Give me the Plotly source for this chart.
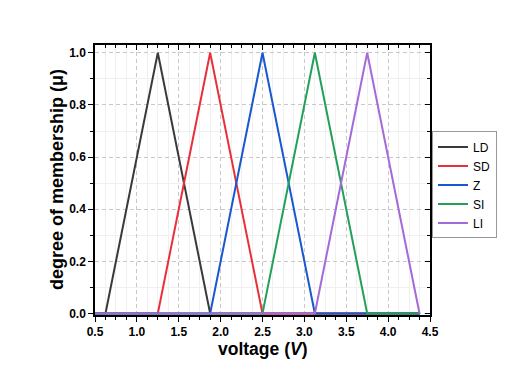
import plotly.graph_objects as go

names = ["LD", "SD", "Z", "SI", "LI"]
colors = ["#3a3a3a", "#e8303a", "#1858d0", "#23a05a", "#a46ad8"]
x_start = 0.5
x_end = 4.375
left_feet = [0.625, 1.25, 1.875, 2.5, 3.125]
peaks = [1.25, 1.875, 2.5, 3.125, 3.75]
right_feet = [1.875, 2.5, 3.125, 3.75, 4.375]

fig = go.Figure()
for n, c, a, b, r in zip(names, colors, left_feet, peaks, right_feet):
    xs = [x_start, a, b, r, x_end]
    ys = [0, 0, 1, 0, 0]
    fig.add_trace(go.Scatter(x=xs, y=ys, mode="lines", name=n,
                             line=dict(color=c, width=2)))

# invisible trace for mirrored inside ticks
fig.add_trace(go.Scatter(x=[0.5], y=[0], xaxis="x2", yaxis="y2", mode="markers",
                         marker=dict(opacity=0), showlegend=False, hoverinfo="skip"))

xr = [0.5, 4.5]
yr = [-0.006, 1.03]
font = "Arial, Liberation Sans, sans-serif"

fig.update_layout(
    width=505, height=384,
    margin=dict(l=87, r=83, t=37, b=77, autoexpand=False),
    paper_bgcolor="white", plot_bgcolor="white",
    font=dict(family=font, color="black"),
    showlegend=True,
    legend=dict(x=1.006, y=0.68, xanchor="left", yanchor="top",
                bordercolor="#999999", borderwidth=1,
                font=dict(size=12, family=font),
                tracegroupgap=0, itemwidth=30),
    xaxis=dict(range=xr, dtick=0.5, tick0=0.5, tickformat=".1f", automargin=False,
               showline=True, linecolor="black", linewidth=1.5,
               ticks="outside", ticklen=5, tickcolor="black",
               tickfont=dict(size=12, family=font, weight="bold"),
               showgrid=True, gridcolor="#c8c8c8", griddash="4px,3px", gridwidth=1,
               zeroline=False,
               minor=dict(dtick=0.125, tick0=0.5, ticks="outside", ticklen=3,
                          tickcolor="black", showgrid=True, gridcolor="#f0f0f0",
                          griddash="solid", gridwidth=1)),
    yaxis=dict(range=yr, dtick=0.2, tick0=0, tickformat=".1f", automargin=False,
               showline=True, linecolor="black", linewidth=1.5,
               ticks="outside", ticklen=5, tickcolor="black",
               tickfont=dict(size=12, family=font, weight="bold"),
               showgrid=True, gridcolor="#c8c8c8", griddash="4px,3px", gridwidth=1,
               zeroline=False,
               minor=dict(dtick=0.1, tick0=0, ticks="outside", ticklen=3,
                          tickcolor="black", showgrid=True, gridcolor="#f0f0f0",
                          griddash="solid", gridwidth=1)),
    xaxis2=dict(range=xr, overlaying="x", side="top", anchor="y2", automargin=False,
                dtick=0.5, tick0=0.5, showticklabels=False,
                showline=True, linecolor="black", linewidth=1.5,
                ticks="inside", ticklen=5, tickcolor="black",
                showgrid=False, zeroline=False,
                minor=dict(dtick=0.125, tick0=0.5, ticks="inside", ticklen=3,
                           tickcolor="black", showgrid=False)),
    yaxis2=dict(range=yr, overlaying="y", side="right", anchor="x2", automargin=False,
                dtick=0.2, tick0=0, showticklabels=False,
                showline=True, linecolor="black", linewidth=1.5,
                ticks="inside", ticklen=5, tickcolor="black",
                showgrid=False, zeroline=False,
                minor=dict(dtick=0.1, tick0=0, ticks="inside", ticklen=3,
                           tickcolor="black", showgrid=False)),
    annotations=[
        dict(text="<b>voltage (<i>V</i>)</b>", x=0.5, y=0, xref="paper", yref="paper",
             xanchor="center", yanchor="middle", yshift=-34, showarrow=False,
             font=dict(size=17.5, family=font)),
        dict(text="<b>degree of membership (μ)</b>", x=0, y=0.5, xref="paper", yref="paper",
             xanchor="center", yanchor="middle", xshift=-38, textangle=-90, showarrow=False,
             font=dict(size=18, family=font)),
    ],
)

fig.write_html("out.html")
